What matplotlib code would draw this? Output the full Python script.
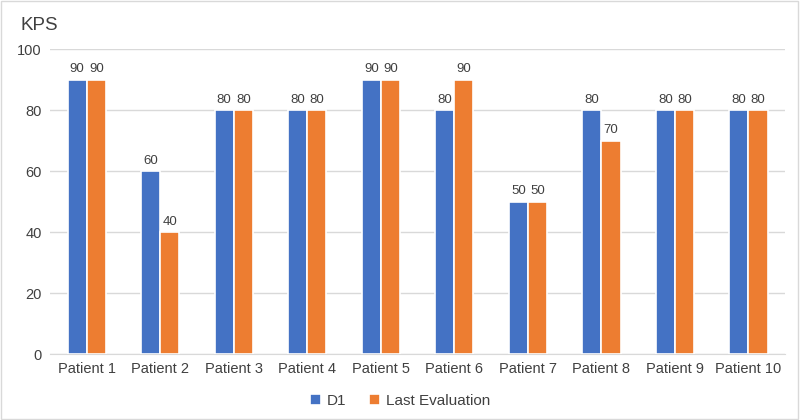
import numpy as np
import matplotlib
matplotlib.use('Agg')
import matplotlib.pyplot as plt
from matplotlib.patches import Rectangle

plt.rcParams['font.family'] = ['Liberation Sans', 'DejaVu Sans']

# Datos
patients = ['Patient 1', 'Patient 2', 'Patient 3', 'Patient 4', 'Patient 5',
            'Patient 6', 'Patient 7', 'Patient 8', 'Patient 9', 'Patient 10']
d1 = [90, 60, 80, 80, 90, 80, 50, 80, 80, 80]
last_eval = [90, 40, 80, 80, 90, 90, 50, 70, 80, 80]

blue = '#4472C4'
orange = '#ED7D31'
text_col = '#404040'

fig = plt.figure(figsize=(8, 4.2), dpi=100)
ax = fig.add_axes([0.0625, 0.157, 0.919, 0.726])

x = np.arange(len(patients))
w = 0.26
b1 = ax.bar(x - w / 2, d1, w, color=blue, edgecolor='white', linewidth=1.2, label='D1', zorder=3)
b2 = ax.bar(x + w / 2, last_eval, w, color=orange, edgecolor='white', linewidth=1.2,
            label='Last Evaluation', zorder=3)

for bars in (b1, b2):
    for r in bars:
        ax.text(r.get_x() + r.get_width() / 2, r.get_height() + 1.5, f'{int(r.get_height())}',
                ha='center', va='bottom', fontsize=9.5, color=text_col)

ax.set_ylim(0, 100)
ax.set_xlim(-0.5, len(patients) - 0.5)
ax.set_yticks(range(0, 101, 20))
ax.set_xticks(x)
ax.set_xticklabels(patients)
ax.tick_params(axis='both', length=0, labelsize=10.5, colors=text_col, pad=6)
ax.yaxis.grid(True, color='#D9D9D9', linewidth=1, zorder=0)
for s in ('top', 'right', 'left'):
    ax.spines[s].set_visible(False)
ax.spines['bottom'].set_color('#D9D9D9')

fig.text(0.025, 0.94, 'KPS', fontsize=13.5, color=text_col, va='center')

leg = fig.legend(handles=[b1, b2], loc='center', bbox_to_anchor=(0.5, 0.045), ncol=2,
                 frameon=False, fontsize=11, handlelength=0.7, handleheight=0.7,
                 handletextpad=0.4, columnspacing=1.5)
for t in leg.get_texts():
    t.set_color(text_col)

fig.patches.append(Rectangle((0.001, 0.002), 0.997, 0.995, transform=fig.transFigure,
                             fill=False, edgecolor='#D9D9D9', linewidth=1))

plt.savefig('out.png', dpi=100)
plt.close()
